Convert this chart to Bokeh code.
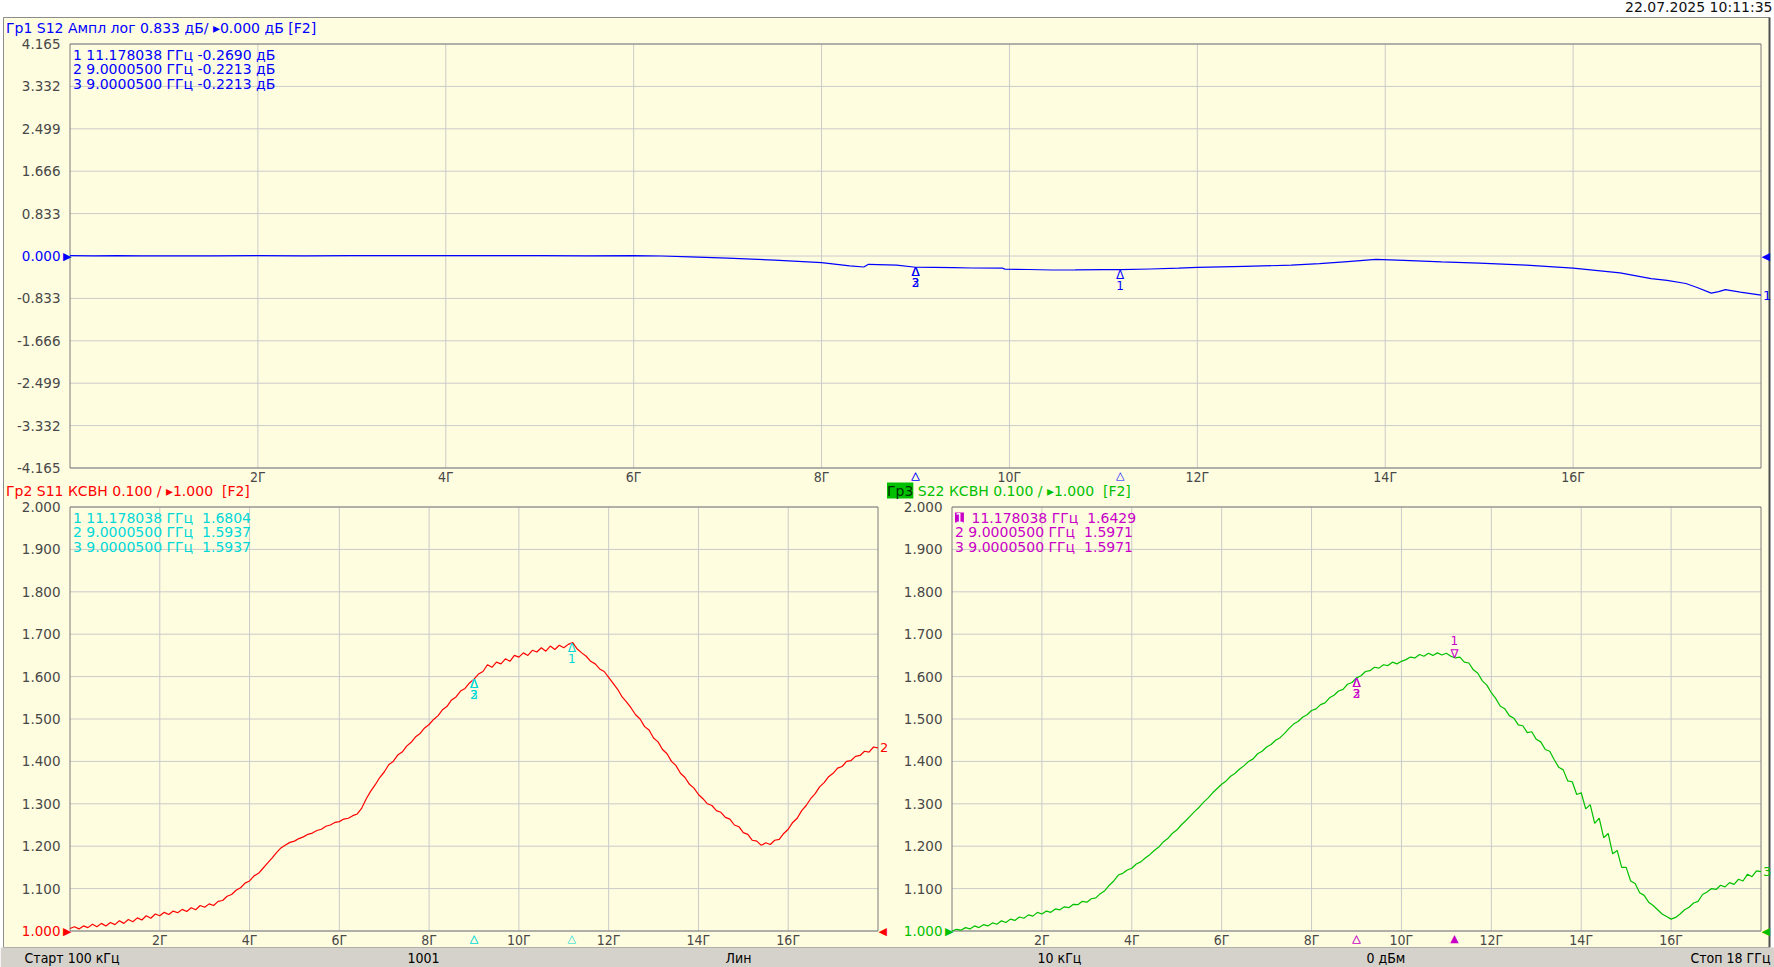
from bokeh.plotting import figure
from bokeh.models import Range1d, Label, LabelSet, ColumnDataSource
from bokeh.core.properties import value
from bokeh.embed import file_html
from bokeh.resources import INLINE

# ---------------- data ----------------
DATE_TEXT = "22.07.2025 10:11:35"
X_TICKS = [2, 4, 6, 8, 10, 12, 14, 16]
X_END_GHZ = 18
S12_Y_TICKS = [-4.165, -3.332, -2.499, -1.666, -0.833, 0.0, 0.833, 1.666, 2.499, 3.332, 4.165]
VSWR_Y_TICKS = [1.0, 1.1, 1.2, 1.3, 1.4, 1.5, 1.6, 1.7, 1.8, 1.9, 2.0]
S12_REF = 0.0
VSWR_REF = 1.0

S12_FREQ = [0.0, 0.25, 0.5, 0.75, 1.0, 1.5, 2.0, 2.5, 3.0, 3.5, 4.0, 4.5, 5.0, 5.5, 6.0, 6.3, 6.6,
            7.0, 7.5, 8.0, 8.3, 8.45, 8.5, 8.8, 9.0, 9.2, 9.4, 9.6, 9.93, 9.95, 10.2, 10.45, 10.7,
            11.0, 11.18, 11.5, 11.8, 12.0, 12.5, 13.0, 13.3, 13.6, 13.9, 14.2, 14.6, 15.0, 15.5,
            16.0, 16.5, 16.83, 17.0, 17.2, 17.32, 17.47, 17.55, 17.62, 17.78, 18.0]
S12_DB = [0.008, 0.004, 0.006, 0.002, 0.004, 0.002, 0.006, 0.004, 0.008, 0.006, 0.010, 0.008,
          0.006, 0.004, 0.006, 0.000, -0.016, -0.040, -0.080, -0.130, -0.195, -0.216, -0.163,
          -0.180, -0.221, -0.225, -0.230, -0.236, -0.240, -0.258, -0.265, -0.275, -0.272,
          -0.266, -0.269, -0.255, -0.240, -0.225, -0.205, -0.180, -0.150, -0.110, -0.068,
          -0.085, -0.115, -0.140, -0.180, -0.240, -0.330, -0.446, -0.480, -0.540, -0.620,
          -0.730, -0.700, -0.660, -0.710, -0.770]

# sweep points (0.1 GHz resolution) for the two VSWR traces
SWEEP_FREQ = [i / 10 for i in range(181)]
S11_VSWR = [
    1.006, 1.010, 1.005, 1.012, 1.008, 1.016, 1.010, 1.018, 1.012, 1.020,
    1.015, 1.024, 1.018, 1.027, 1.022, 1.031, 1.026, 1.036, 1.030, 1.040,
    1.036, 1.044, 1.039, 1.047, 1.043, 1.051, 1.046, 1.055, 1.050, 1.060,
    1.056, 1.064, 1.060, 1.070, 1.072, 1.082, 1.086, 1.096, 1.102, 1.113,
    1.118, 1.130, 1.136, 1.148, 1.160, 1.172, 1.185, 1.196, 1.203, 1.209,
    1.212, 1.218, 1.222, 1.228, 1.231, 1.237, 1.240, 1.247, 1.250, 1.256,
    1.258, 1.264, 1.266, 1.272, 1.276, 1.290, 1.312, 1.330, 1.345, 1.362,
    1.375, 1.392, 1.400, 1.415, 1.422, 1.436, 1.445, 1.458, 1.466, 1.479,
    1.487, 1.499, 1.508, 1.522, 1.530, 1.545, 1.552, 1.566, 1.572, 1.585,
    1.594, 1.606, 1.612, 1.628, 1.622, 1.634, 1.630, 1.642, 1.636, 1.650,
    1.646, 1.656, 1.650, 1.662, 1.658, 1.668, 1.660, 1.672, 1.664, 1.674,
    1.668, 1.676, 1.680, 1.665, 1.656, 1.648, 1.636, 1.630, 1.618, 1.612,
    1.598, 1.584, 1.570, 1.552, 1.540, 1.526, 1.510, 1.500, 1.482, 1.474,
    1.455, 1.446, 1.428, 1.418, 1.400, 1.390, 1.372, 1.362, 1.346, 1.337,
    1.322, 1.312, 1.300, 1.296, 1.284, 1.280, 1.268, 1.264, 1.250, 1.246,
    1.232, 1.228, 1.214, 1.212, 1.202, 1.208, 1.204, 1.214, 1.216, 1.230,
    1.240, 1.256, 1.266, 1.284, 1.296, 1.312, 1.324, 1.340, 1.350, 1.364,
    1.372, 1.384, 1.388, 1.400, 1.402, 1.412, 1.414, 1.424, 1.422, 1.434,
    1.432]
S22_VSWR = [
    1.000, 1.004, 1.002, 1.008, 1.005, 1.012, 1.008, 1.015, 1.012, 1.019,
    1.016, 1.024, 1.020, 1.028, 1.025, 1.033, 1.030, 1.038, 1.035, 1.044,
    1.040, 1.047, 1.044, 1.052, 1.050, 1.057, 1.055, 1.063, 1.062, 1.070,
    1.068, 1.076, 1.078, 1.088, 1.095, 1.108, 1.118, 1.132, 1.136, 1.144,
    1.148, 1.158, 1.163, 1.172, 1.180, 1.190, 1.198, 1.210, 1.218, 1.230,
    1.238, 1.250, 1.260, 1.271, 1.282, 1.292, 1.304, 1.314, 1.326, 1.336,
    1.346, 1.354, 1.365, 1.372, 1.382, 1.390, 1.400, 1.406, 1.418, 1.424,
    1.434, 1.440, 1.450, 1.456, 1.466, 1.478, 1.488, 1.494, 1.504, 1.510,
    1.520, 1.524, 1.534, 1.538, 1.550, 1.556, 1.566, 1.570, 1.582, 1.586,
    1.597, 1.602, 1.612, 1.614, 1.622, 1.620, 1.628, 1.626, 1.634, 1.630,
    1.636, 1.640, 1.646, 1.644, 1.652, 1.648, 1.655, 1.650, 1.656, 1.651,
    1.655, 1.648, 1.644, 1.646, 1.634, 1.632, 1.616, 1.608, 1.590, 1.580,
    1.562, 1.548, 1.530, 1.524, 1.508, 1.502, 1.486, 1.484, 1.468, 1.470,
    1.452, 1.446, 1.428, 1.424, 1.404, 1.386, 1.380, 1.354, 1.352, 1.322,
    1.326, 1.288, 1.298, 1.254, 1.266, 1.220, 1.230, 1.182, 1.190, 1.150,
    1.150, 1.118, 1.112, 1.090, 1.084, 1.068, 1.060, 1.050, 1.040, 1.034,
    1.028, 1.032, 1.040, 1.050, 1.056, 1.066, 1.070, 1.086, 1.092, 1.100,
    1.098, 1.108, 1.104, 1.114, 1.110, 1.122, 1.118, 1.134, 1.128, 1.142,
    1.140]

MARKER_ID = [1, 2, 3]
MARKER_FREQ = [11.178038, 9.0000500, 9.0000500]
S12_MARK = [-0.2690, -0.2213, -0.2213]
S11_MARK = [1.6804, 1.5937, 1.5937]
S22_MARK = [1.6429, 1.5971, 1.5971]

TITLE_1 = "Гр1 S12 Ампл лог 0.833 дБ/ \u25b80.000 дБ [F2]"
TITLE_2 = "Гр2 S11 КСВН 0.100 / \u25b81.000 \u00a0[F2]"
TITLE_3 = "Гр3 S22 КСВН 0.100 / \u25b81.000 \u00a0[F2]"
STATUS = [("Старт 100 кГц", 24, "left"), ("1001", 407, "left"), ("Лин", 725, "left"),
          ("10 кГц", 1037, "left"), ("0 дБм", 1366, "left"), ("Стоп 18 ГГц", 1770, "right")]

# ---------------- style / layout (page pixels) ----------------
PAGE_W, PAGE_H = 1774, 967
BG = "#FFFDE0"
GRID = "#CACACA"
FRAME = "#7A7A7A"
LBL = "#484848"
BLUE = "#0000FF"
RED = "#FF0000"
GREEN = "#00C000"
CYAN = "#00D8D8"
MAGENTA = "#C800C8"
STATUS_BG = "#D5D2CB"
FONT = "DejaVu Sans"
NARROW = "Liberation Sans Narrow, DejaVu Sans Condensed, sans-serif"
# plot boxes: (left, right, top, bottom) in page pixels
BOX1 = (69, 1760, 43, 467)
BOX2 = (69, 877, 506, 930)
BOX3 = (951, 1760, 506, 930)

p = figure(width=PAGE_W, height=PAGE_H, x_range=Range1d(0, PAGE_W), y_range=Range1d(PAGE_H, 0),
           x_axis_type=None, y_axis_type=None, min_border=0, toolbar_location=None, tools="",
           output_backend="svg")
p.background_fill_color = "white"
p.border_fill_color = "white"
p.outline_line_color = None
p.title.visible = False


def x_scale_range(d0, d1, p0, p1):
    k = (d1 - d0) / (p1 - p0)
    return Range1d(start=d0 - p0 * k, end=d0 + (PAGE_W - p0) * k)


def y_scale_range(lo, hi, p_lo, p_hi):
    k = (hi - lo) / (p_lo - p_hi)
    return Range1d(start=lo - (PAGE_H - p_lo) * k, end=lo + p_lo * k)


def txt(x, y, text, color, size="14px", font=FONT, align="left", baseline="middle",
        dx=0, dy=0, xn="default", yn="default", bg=None):
    kw = {}
    if bg is not None:
        kw["background_fill_color"] = bg
    p.add_layout(Label(x=x, y=y, text=text, text_color=color, text_font=font,
                       text_font_size=size, text_align=align, text_baseline=baseline,
                       x_offset=dx, y_offset=dy, x_range_name=xn, y_range_name=yn, **kw))


def fmt_freq(f):
    return f"{f:.{8 - len(str(int(f)))}f}"


# page background: white strip, yellow screen, status bar
p.quad(left=[3], right=[1769], top=[17], bottom=[947], fill_color=BG, line_color="#8C8C8C")
p.segment(x0=[1769], y0=[17], x1=[1769], y1=[947], line_color="#505050", line_width=2)
p.quad(left=[0], right=[PAGE_W], top=[947], bottom=[PAGE_H], fill_color=STATUS_BG,
       line_color=None)
txt(1772, 6.5, DATE_TEXT, "#101010", align="right")
for text, x, align in STATUS:
    txt(x, 957, text, "#000000", size="14px", font=NARROW, align=align)


def panel(key, box, y_ticks, ref, ref_color, freq, vals, trace_color, end_id, title, title_color,
          mark_vals, mark_color, active=None):
    left, right, top, bottom = box
    xn, yn = "x" + key, "y" + key
    lo, hi = y_ticks[0], y_ticks[-1]
    p.extra_x_ranges[xn] = x_scale_range(0, X_END_GHZ, left + 0.5, right + 0.5)
    p.extra_y_ranges[yn] = y_scale_range(lo, hi, bottom + 0.5, top + 0.5)
    kw = dict(x_range_name=xn, y_range_name=yn)
    # grid and box
    p.segment(x0=X_TICKS, y0=[lo] * len(X_TICKS), x1=X_TICKS, y1=[hi] * len(X_TICKS),
              line_color=GRID, line_width=1, **kw)
    p.segment(x0=[0] * len(y_ticks), y0=y_ticks, x1=[X_END_GHZ] * len(y_ticks), y1=y_ticks,
              line_color=GRID, line_width=1, **kw)
    p.quad(left=[0], right=[X_END_GHZ], bottom=[lo], top=[hi], fill_color=None,
           line_color=FRAME, line_width=1, **kw)
    # tick labels
    others = [t for t in y_ticks if t != ref]
    p.add_layout(LabelSet(x="x", y="y", text="text", source=ColumnDataSource(dict(
        x=[0] * len(others), y=others, text=[f"{t:.3f}" for t in others])),
        x_offset=-9.5, text_align="right", text_baseline="middle", text_color=LBL,
        text_font=value(FONT), text_font_size=value("13.5px"), **kw))
    p.add_layout(LabelSet(x="x", y="y", text="text", source=ColumnDataSource(dict(
        x=X_TICKS, y=[lo] * len(X_TICKS), text=[f"{t}Г" for t in X_TICKS])),
        y_offset=-1, text_align="center", text_baseline="top", text_color=LBL,
        text_font=value(NARROW), text_font_size=value("14px"), **kw))
    # reference level
    txt(0, ref, f"{ref:.3f}", ref_color, size="13.5px", align="right", dx=-9.5, xn=xn, yn=yn)
    txt(0, ref, "\u25b6", ref_color, size="11px", align="right", dx=1.5, xn=xn, yn=yn)
    txt(X_END_GHZ, ref, "\u25c0", ref_color, size="11px", align="left", dx=0.5, xn=xn, yn=yn)
    # trace
    p.line(freq, vals, line_color=trace_color, line_width=1.2, **kw)
    txt(X_END_GHZ, vals[-1], str(end_id), trace_color, size="13px", dx=2, xn=xn, yn=yn)
    # title
    txt(0, hi, title, title_color, dx=-(left - (5 if left < 100 else 886)), dy=16.5, xn=xn, yn=yn)
    # markers
    for i, (n, f, v) in enumerate(zip(MARKER_ID, MARKER_FREQ, mark_vals)):
        unit = " дБ" if key == "1" else ""
        val = f"{v: .4f}" if key == "1" else f"\u00a0{v:.4f}"
        line = f"{fmt_freq(f)} ГГц {val}{unit}"
        if active is not None and i == active:
            txt(0, hi, str(n), "white", dx=3, dy=-(10.5 + 14.8 * i), xn=xn, yn=yn, bg=mark_color)
            txt(0, hi, line, mark_color, dx=19.5, dy=-(10.5 + 14.8 * i), xn=xn, yn=yn)
            txt(f, v, "\u2207", mark_color, size="12px", align="center", baseline="bottom",
                dy=-3, xn=xn, yn=yn)
            txt(f, v, str(n), mark_color, size="12px", align="center", baseline="bottom",
                dy=13, xn=xn, yn=yn)
            txt(f, lo, "\u25b2", mark_color, size="11px", align="center", baseline="top",
                dy=-1, xn=xn, yn=yn)
        else:
            txt(0, hi, f"{n} {line}", mark_color, dx=3, dy=-(10.5 + 14.8 * i), xn=xn, yn=yn)
            txt(f, v, "\u0394", mark_color, size="12px", align="center", baseline="top",
                dy=2, xn=xn, yn=yn)
            txt(f, v, str(n), mark_color, size="12px", align="center", baseline="top",
                dy=-11, xn=xn, yn=yn)
            txt(f, lo, "\u25b3", mark_color, size="11px", align="center", baseline="top",
                dy=-1, xn=xn, yn=yn)
    return xn, yn


panel("1", BOX1, S12_Y_TICKS, S12_REF, BLUE, S12_FREQ, S12_DB, BLUE, 1, TITLE_1, BLUE,
      S12_MARK, BLUE)
panel("2", BOX2, VSWR_Y_TICKS, VSWR_REF, RED, SWEEP_FREQ, S11_VSWR, RED, 2, TITLE_2, RED,
      S11_MARK, CYAN)
xn3, yn3 = panel("3", BOX3, VSWR_Y_TICKS, VSWR_REF, GREEN, SWEEP_FREQ, S22_VSWR, GREEN, 3,
                 TITLE_3, GREEN, S22_MARK, MAGENTA, active=0)
# active channel tag
txt(0, VSWR_Y_TICKS[-1], "Гр3", "#003000", dx=-(BOX3[0] - 886), dy=16.5, xn=xn3, yn=yn3, bg=GREEN)

open("out.html", "w").write(file_html(p, INLINE))
